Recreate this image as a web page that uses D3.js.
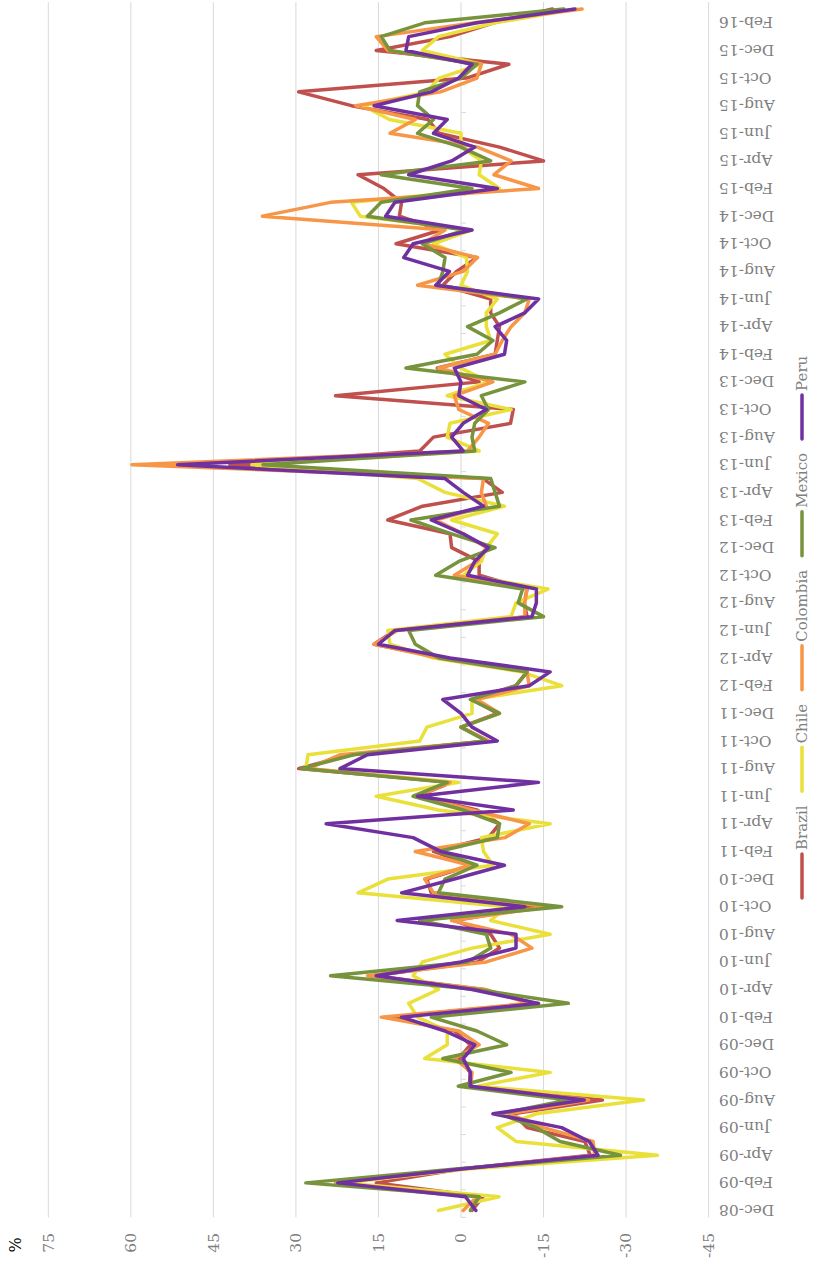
<!DOCTYPE html>
<html>
<head>
<meta charset="utf-8">
<script src="https://cdn.jsdelivr.net/npm/d3@7"></script>
<style>
  body { margin: 0; background: #fff; }
  svg { display: block; }
</style>
</head>
<body>
<svg id="chart" width="813" height="1262"></svg>
<script>
// categories (one per month) and axis ticks
const months = [
  "Dec-08","Jan-09","Feb-09","Mar-09","Apr-09","May-09","Jun-09","Jul-09","Aug-09","Sep-09","Oct-09","Nov-09",
  "Dec-09","Jan-10","Feb-10","Mar-10","Apr-10","May-10","Jun-10","Jul-10","Aug-10","Sep-10","Oct-10","Nov-10",
  "Dec-10","Jan-11","Feb-11","Mar-11","Apr-11","May-11","Jun-11","Jul-11","Aug-11","Sep-11","Oct-11","Nov-11",
  "Dec-11","Jan-12","Feb-12","Mar-12","Apr-12","May-12","Jun-12","Jul-12","Aug-12","Sep-12","Oct-12","Nov-12",
  "Dec-12","Jan-13","Feb-13","Mar-13","Apr-13","May-13","Jun-13","Jul-13","Aug-13","Sep-13","Oct-13","Nov-13",
  "Dec-13","Jan-14","Feb-14","Mar-14","Apr-14","May-14","Jun-14","Jul-14","Aug-14","Sep-14","Oct-14","Nov-14",
  "Dec-14","Jan-15","Feb-15","Mar-15","Apr-15","May-15","Jun-15","Jul-15","Aug-15","Sep-15","Oct-15","Nov-15",
  "Dec-15","Jan-16","Feb-16","Mar-16"
]
const valueTicks = [75, 60, 45, 30, 15, 0, -15, -30, -45]

// monthly % values
const brazil = [
  -2, -4, 15.4, 0, -23.5, -22.5, -12, -9.5, -25.7, -1.5, -1.7, 0.4,
  -1.7, 1.2, 12.9, -13.3, -4, 16, -3, -7, -5.4, 1.2, -13.7, 5.4,
  6.2, -2, 5, -5, -7, -2.9, 7.9, 1.7, 29.5, 20, -5, 0,
  -6.6, -2, -10, -12, 3, 15.8, 12, -12, -11.5, -12, -3.3, -3.3,
  1.7, 2, 13.3, 7, -7.5, -4, 42, 7.5, 5, -9, -9.5, 22.8,
  -3.3, 4.3, -6.2, -6.6, -7, -5.4, -5.4, 3.3, 0.8, -2.9, 11.8, 3.7,
  11.2, 10.8, 14, 18.7, -15, -7, 4, 6, 19.9, 29.5, -1, -8.7,
  15.4, 2, -6, -16.6
]
const chile = [
  4.1, -6.9, 21, -1, -35.7, -10, -6.6, -13.7, -33.2, -3, -16.2, 6.6,
  2.5, 2.5, 7.9, 9.5, 4.1, 8.7, 7, -2, -16.2, -5.4, -8.3, 18.7,
  13.3, -5.8, -4.1, -3.7, -16.2, 4.1, 15.4, 0.4, 28.2, 27.8, 7.5, 6.2,
  -2, -2, -18.3, -11, 5, 12.9, 13.3, -9.1, -10, -15.8, -0.4, -3.7,
  -4.6, -6.6, 1.7, -7.9, 2.9, 7.9, 38, -3.3, 2.5, 2, -9.1, 2.5,
  -5, 0, 2.9, -5.4, -4.6, -4.6, -6.6, 0, -1.2, -1, 5, -2,
  18.3, 19.9, -7, -3.3, -3.7, 0, 0, 13, 17.8, 6.2, 4, -3.7,
  7, 4.1, -6.2, -21
]
const colombia = [
  -0.4, -2.9, 22.8, 0, -24.3, -24, -15, -8.7, -23.2, -1.8, -2, 1.2,
  -3.3, 0.4, 14.5, -12.4, -4.5, 17, -4.6, -12.9, -9.1, 1.7, -15.8, 5,
  6.6, -1.7, 8.3, -8, -12.4, -2, 7.9, 2, 27.8, 22, -5, 0,
  -7, -2.9, -12.4, -12, 4, 15.8, 11.6, -11.6, -11.6, -12, 1.2, -2.9,
  -4.6, -0.4, 4.6, -4.6, -3.7, -4.1, 59.8, -1.2, -3.3, -5, 0.4, 1.2,
  -5.8, 4.1, -6.2, -7.5, -9.1, -11.6, -12.4, 7.9, -0.4, -3, 7, 2.9,
  36.1, 23.7, -14.1, -6, -9.1, -3, 12.9, 8.3, 19.1, 3.7, -2.9, -3.7,
  13.3, 15.4, -2.5, -22
]
const mexico = [
  -1.7, -3.3, 28.2, 1, -29, -18, -13.7, -7, -19.5, 0.5, -9.1, 3.3,
  -8.3, -2.9, 5.4, -19.5, -3, 23.7, -1.2, -5.4, -4.6, 7.5, -18.3, 4.1,
  2.9, -2.9, 4.1, -6.6, -7, -0.4, 8.7, 2.5, 29, 19.5, -4.6, 0,
  -7, -1.7, -10, -12, 4, 8.3, 9.5, -15, -10.4, -11.2, 4.6, 0.4,
  -6.2, 1.7, 9.1, -7, -6.2, -5.4, 36, -2.5, -2, -2.5, -5, -3.7,
  -11.6, 10, -2.9, -5.8, -1.2, -7, -12, 4.1, 3.3, 2.9, 7, -0.8,
  17, 14.5, -2, 14.5, -5.4, 0, 7.9, 5, 7.9, 7.5, 0, -2.9,
  12.9, 14.5, 6.6, -18.7
]
const peru = [
  -2.7, -0.8, 22.4, 0, -24.9, -23.3, -18.3, -5.8, -22.4, -1.7, -1.7, -0.4,
  -2.5, 2.9, 10.8, -14.1, -2, 15.4, 0, -10, -10, 11.6, -11.6, 10.8,
  1.2, -7.9, 3.7, 8.7, 24.5, -9.5, 7.9, -14.1, 22, 17, -6.6, -2,
  0, 3.3, -12.4, -16.2, 2, 15, 12, -12.9, -13.7, -13.7, -1.2, -2.5,
  -5, -0.4, 5.4, -4.1, -0.4, 2.9, 51.5, -0.4, 1.7, -0.4, -4.6, 0.4,
  0, 1.2, -7.9, -8.3, -6.2, -11.6, -14.1, 4.6, 2.1, 10.4, 8.7, -2,
  13.7, 12, -6.6, 9.5, 1.7, -2.5, 5, 2.5, 15.8, 5.4, 0.4, -2,
  10, 9.5, -2.9, -20.7
]

const seriesNames = ["Brazil", "Chile", "Colombia", "Mexico", "Peru"]
const seriesValues = [brazil, chile, colombia, mexico, peru]
const seriesColors = ["#C0504D", "#EAE03A", "#F79646", "#77933C", "#7030A0"]

// the chart lies on its side: draw it in a 1262 x 813 frame, then turn the frame
const dims = {
    width: 1262,
    height: 813,
    plotLeft: 44.6,
    plotRight: 1259.9,
    plotTop: 48.3,
    plotBottom: 708.6,
}

const fontFamily = "'DejaVu Serif', serif"
const labelColor = "#7f7f7f"
const gridColor = "#d9d9d9"

const svg = d3.select("#chart")
const frame = svg.append("g")
    .attr("transform", `translate(0, ${dims.width}) rotate(-90)`)

const xScale = d3.scaleBand()
    .domain(months)
    .range([dims.plotLeft, dims.plotRight])
const bw = xScale.bandwidth()
const xPos = m => xScale(m) + bw / 2

const yScale = d3.scaleLinear()
    .domain([-45, 75])
    .range([dims.plotBottom, dims.plotTop])

// gridlines
frame.append("g").selectAll("line")
    .data(valueTicks)
    .join("line")
    .attr("x1", dims.plotLeft)
    .attr("x2", dims.plotRight)
    .attr("y1", d => yScale(d))
    .attr("y2", d => yScale(d))
    .attr("stroke", gridColor)
    .attr("stroke-width", 1)

// value labels
frame.append("g").selectAll("text")
    .data(valueTicks)
    .join("text")
    .attr("x", 29)
    .attr("y", d => yScale(d))
    .attr("dy", "0.35em")
    .attr("text-anchor", "end")
    .attr("font-family", fontFamily)
    .attr("font-size", 15.5)
    .attr("fill", labelColor)
    .text(d => d)

frame.append("text")
    .attr("x", 17)
    .attr("y", 15)
    .attr("dy", "0.35em")
    .attr("text-anchor", "middle")
    .attr("font-family", fontFamily)
    .attr("font-size", 16)
    .attr("fill", "#000")
    .text("%")

// category tick marks on the zero line, every second month
const tickMonths = months.filter((m, i) => i % 2 === 0)
frame.append("g").selectAll("line")
    .data(tickMonths)
    .join("line")
    .attr("x1", d => xScale(d))
    .attr("x2", d => xScale(d))
    .attr("y1", yScale(0))
    .attr("y2", yScale(0) + 5)
    .attr("stroke", gridColor)
    .attr("stroke-width", 1)

// category labels, below the plot
frame.append("g").selectAll("text")
    .data(tickMonths)
    .join("text")
    .attr("transform", d => `translate(${xPos(d)}, 719) rotate(-90)`)
    .attr("dy", "0.35em")
    .attr("text-anchor", "end")
    .attr("font-family", fontFamily)
    .attr("font-size", 15.5)
    .attr("fill", labelColor)
    .text(d => d)

// series lines
const lineGen = d3.line()
    .x((d, i) => xPos(months[i]))
    .y(d => yScale(d))

frame.append("g").selectAll("path")
    .data(seriesValues)
    .join("path")
    .attr("d", d => lineGen(d))
    .attr("fill", "none")
    .attr("stroke", (d, i) => seriesColors[i])
    .attr("stroke-width", 3.5)
    .attr("stroke-linejoin", "round")
    .attr("stroke-linecap", "round")

// legend
const legend = frame.append("g")
const legendY = 802
const keyLen = 44
let cursor = 364
seriesNames.forEach((name, i) => {
    legend.append("line")
        .attr("x1", cursor)
        .attr("x2", cursor + keyLen)
        .attr("y1", legendY)
        .attr("y2", legendY)
        .attr("stroke", seriesColors[i])
        .attr("stroke-width", 3.5)
        .attr("stroke-linecap", "round")
    const t = legend.append("text")
        .attr("x", cursor + keyLen + 4)
        .attr("y", legendY)
        .attr("dy", "0.35em")
        .attr("font-family", fontFamily)
        .attr("font-size", 15)
        .attr("fill", labelColor)
        .text(name)
    cursor += keyLen + 4 + t.node().getComputedTextLength() + 14
})
</script>
</body>
</html>
